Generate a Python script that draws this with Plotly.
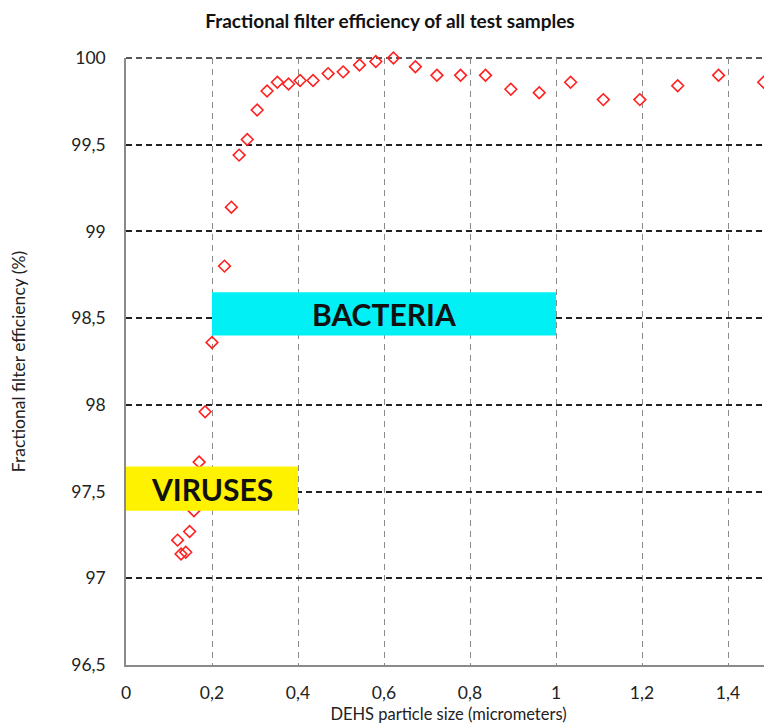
import plotly.graph_objects as go

particle_size = [0.120, 0.128, 0.139, 0.148, 0.158, 0.170, 0.184, 0.200, 0.229, 0.245,
                 0.263, 0.282, 0.305, 0.328, 0.352, 0.378, 0.405, 0.435, 0.470, 0.505,
                 0.543, 0.581, 0.622, 0.673, 0.723, 0.778, 0.836, 0.895, 0.961, 1.034,
                 1.110, 1.195, 1.283, 1.378, 1.483]
efficiency = [97.22, 97.14, 97.15, 97.27, 97.39, 97.67, 97.96, 98.36, 98.80, 99.14,
              99.44, 99.53, 99.70, 99.81, 99.86, 99.85, 99.87, 99.87, 99.91, 99.92,
              99.96, 99.98, 100.0, 99.95, 99.90, 99.90, 99.90, 99.82, 99.80, 99.86,
              99.76, 99.76, 99.84, 99.90, 99.86]

# annotated regions: label, x0, x1, y0, y1, colour
regions = [
    ("BACTERIA", 0.2, 1.0, 98.40, 98.65, "#00F0F5"),
    ("VIRUSES", 0.0, 0.4, 97.39, 97.645, "#FFF200"),
]

FONT = "Lato, Carlito, Calibri, sans-serif"

fig = go.Figure()
fig.add_trace(go.Scatter(
    x=particle_size, y=efficiency, mode="markers",
    marker=dict(symbol="diamond-open", size=9, color="#FF2020",
                line=dict(width=1.6, color="#FF2020")),
    showlegend=False, cliponaxis=False,
))

# top dashed gridline (plotly omits the gridline at the range edge)
fig.add_shape(type="line", xref="paper", yref="paper", x0=0, x1=1, y0=1, y1=1,
              line=dict(color="#222222", width=1.5, dash="6px,4px"), layer="below")

for label, x0, x1, y0, y1, col in regions:
    fig.add_shape(type="rect", x0=x0, x1=x1, y0=y0, y1=y1, xref="x", yref="y",
                  fillcolor=col, line=dict(width=0), layer="above")
    fig.add_annotation(x=(x0 + x1) / 2, y=(y0 + y1) / 2, text=label, showarrow=False,
                       font=dict(family="Lato", size=30, color="#111111", weight=700))

fig.update_layout(
    width=764, height=716,
    separators=",.",
    paper_bgcolor="white", plot_bgcolor="white",
    margin=dict(l=118, r=1, t=50, b=59, autoexpand=False),
    title=dict(text="<b>Fractional filter efficiency of all test samples</b>",
               x=0.5, xanchor="center", y=1 - 13 / 716, yanchor="middle",
               font=dict(family=FONT, size=19, color="#111")),
    font=dict(family=FONT, color="#222"),
)

fig.update_xaxes(
    range=[0, 1.5], dtick=0.2, tick0=0,
    showgrid=True, gridcolor="#8a8a8a", gridwidth=1, griddash="6px,5px",
    showline=True, linecolor="#8a8a8a", linewidth=1.5,
    zeroline=False, ticks="", automargin=False,
    tickfont=dict(size=17.5, color="#222"), ticklabelstandoff=11,
    title=dict(text="DEHS particle size (micrometers)", font=dict(size=16.5, color="#222"), standoff=13),
)
fig.update_yaxes(
    range=[96.5, 100], dtick=0.5, tick0=96.5,
    showgrid=True, gridcolor="#222222", gridwidth=1.5, griddash="6px,4px",
    showline=True, linecolor="#8a8a8a", linewidth=1.5,
    zeroline=False, ticks="", automargin=False,
    tickfont=dict(size=17.5, color="#222"), ticklabelstandoff=15,
    title=dict(text="Fractional filter efficiency (%)", font=dict(size=17.5, color="#222"), standoff=44),
)

fig.write_html("out.html")
